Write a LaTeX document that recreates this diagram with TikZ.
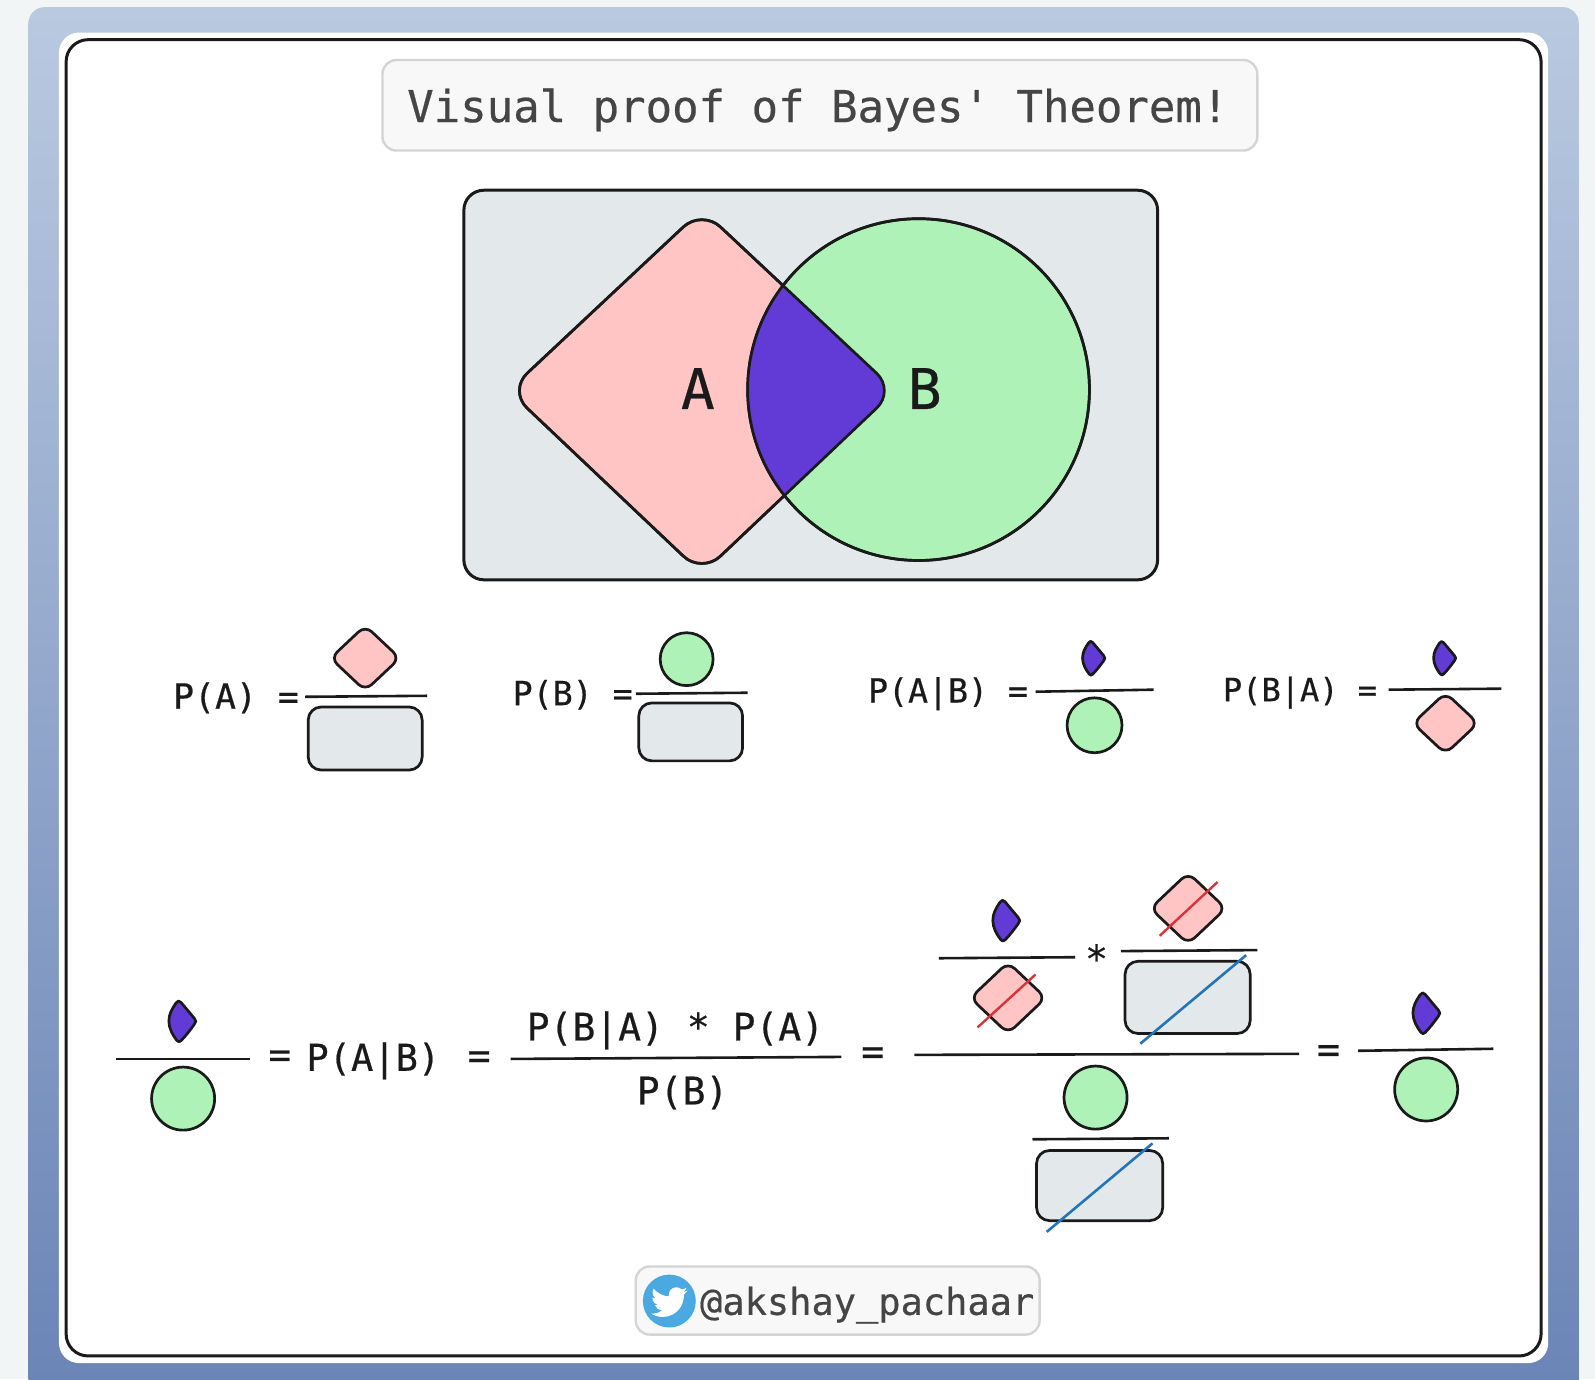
\documentclass[tikz,border=0pt]{standalone}
\usepackage{fontspec}
\newfontfamily\monof[FakeBold=0.5]{DejaVu Sans Mono}
\definecolor{pagebg}{HTML}{F1F5F6}
\definecolor{frametop}{HTML}{B9C9E0}
\definecolor{framemid}{HTML}{93A9CF}
\definecolor{framebot}{HTML}{6A84B6}
\definecolor{inktone}{HTML}{1A1A1A}
\definecolor{greyfill}{HTML}{E3E8EB}
\definecolor{pinkfill}{HTML}{FFC4C4}
\definecolor{greenfill}{HTML}{AEF2B8}
\definecolor{purplefill}{HTML}{623BD6}
\definecolor{chipfill}{HTML}{F8F8F8}
\definecolor{chipline}{HTML}{D2D4D6}
\definecolor{chiptext}{HTML}{454545}
\definecolor{twblue}{HTML}{4AA9E0}
\definecolor{strikered}{HTML}{D9333A}
\definecolor{strikeblue}{HTML}{2474BC}
\tikzset{
  ink/.style={draw=inktone,line width=1.35pt,line join=round},
  bar/.style={draw=inktone,line width=1.3pt},
  chip/.style={draw=chipline,fill=chipfill,line width=1.2pt,rounded corners=7pt},
  math/.style={text=inktone,font=\monof\fontsize{#1}{#1}\selectfont,inner sep=0pt},
  redline/.style={draw=strikered,line width=1.2pt},
  blueline/.style={draw=strikeblue,line width=1.3pt}
}
\newcommand{\mydia}[4]{\path[ink,fill=pinkfill,rounded corners=4.5pt]
  ({#1-#3-4},#2) -- (#1,{#2-#4-4}) -- ({#1+#3+4},#2) -- (#1,{#2+#4+4}) -- cycle;}
\newcommand{\myball}[3]{\path[ink,fill=greenfill] (#1,#2) circle[radius=#3];}
\newcommand{\myrect}[4]{\path[ink,fill=greyfill,rounded corners=6.5pt] (#1,#2) rectangle (#3,#4);}
\newcommand{\mydrop}[3]{\begin{scope}[shift={(#1,#2)},scale=#3]
  \path[ink,fill=purplefill] (-6,-18) .. controls (-4.5,-20.5) and (-2.5,-20.5) .. (-1,-18.5) -- (12,-3)
    .. controls (14,-1) and (14,1) .. (12,3) .. controls (7,10) and (3,15) .. (-1,19) .. controls (-2.5,20.5) and (-3.5,20.5) .. (-5,19)
    .. controls (-9,14) and (-13,7) .. (-13,0) .. controls (-13,-7) and (-10,-12) .. (-6,-18) -- cycle;
  \end{scope}}
\newcommand{\bigdia}{(500,384) -- (690,206) -- (880,384) -- (690,564) -- cycle}
\begin{document}
\begin{tikzpicture}[x=0.50861pt,y=-0.50861pt]
\useasboundingbox (0,0) rectangle (1568,1355.7);
\clip (0,0) rectangle (1568,1355.7);
\fill[pagebg] (0,0) rectangle (1568,1355.7);
% frame
\shade[top color=frametop,middle color=framemid,bottom color=framebot,rounded corners=8pt] (28,7) rectangle (1552,1380);
\fill[white,rounded corners=10pt] (58,32) rectangle (1522,1340);
\path[draw=inktone,line width=1.5pt,fill=white,rounded corners=11pt] (65,39) rectangle (1515,1333);
% title
\path[chip] (376,59) rectangle (1236,148);
\node[font=\monof\fontsize{22}{24}\selectfont,text=chiptext,inner sep=0pt] (title) at (804,108) {Visual proof of Bayes' Theorem!};
% venn
\path[draw=inktone,line width=1.5pt,fill=greyfill,rounded corners=10pt] (456,187) rectangle (1138,570);
\path[ink,fill=pinkfill,rounded corners=12.7pt] \bigdia;
\path[ink,fill=greenfill] (903,383) circle[radius=168];
\begin{scope}
  \clip (903,383) circle[radius=168];
  \path[fill=purplefill,rounded corners=12.7pt] \bigdia;
\end{scope}
\path[ink,rounded corners=12.7pt] \bigdia;
\path[ink] (903,383) circle[radius=168];
\node[math=28] (labA) at (686,382) {A};
\node[math=28] (labB) at (909,382) {B};
% row 1
\node[math=17.4] (t1) at (232,686) {P(A) =};
\mydia{359}{647}{30}{28}
\draw[bar] (300,685) -- (420,684);
\myrect{303}{695}{415}{757}
\node[math=16.6] (t2) at (563,683) {P(B) =};
\myball{675}{648}{26}
\draw[bar] (625,682) -- (735,681);
\myrect{628}{691}{730}{748}
\node[math=16.6] (t3) at (932,682) {P(A|B) =};
\mydrop{1075}{647}{0.83}
\draw[bar] (1018,680) -- (1134,678);
\myball{1076}{713}{27}
\node[math=16] (t4) at (1278,681) {P(B|A) =};
\mydrop{1420}{647}{0.82}
\draw[bar] (1365,678) -- (1476,677);
\mydia{1421}{711}{28}{26}
% row 2
\mydrop{179}{1004}{1}
\draw[bar] (114,1041) -- (246,1041);
\myball{180}{1080}{31}
\node[math=18.5] (t5a) at (275,1041) {=};
\node[math=18.5] (t5) at (367,1043) {P(A|B)};
\node[math=19] (eq1) at (471,1042) {=};
\draw[bar] (502,1041) -- (827,1039);
\node[math=19] (t6) at (664,1013) {P(B|A) * P(A)};
\node[math=19] (t7) at (671,1074) {P(B)};
\node[math=19] (eq2) at (858,1038) {=};
\draw[bar] (899,1037) -- (1277,1036);
\mydrop{989}{905}{1}
\draw[bar] (923,942) -- (1057,941);
\mydia{991}{981}{33}{31}
\draw[redline] (961,1010) -- (1018,958);
\node[math=19] (star) at (1078,942) {*};
\mydia{1168}{893}{33}{31}
\draw[redline] (1140,920) -- (1197,867);
\draw[bar] (1102,935) -- (1236,934);
\myrect{1106}{945}{1229}{1016}
\draw[blueline] (1121,1026) -- (1225,939);
\myball{1077}{1079}{31}
\draw[bar] (1015,1120) -- (1149,1119);
\myrect{1019}{1131}{1143}{1200}
\draw[blueline] (1029,1211) -- (1133,1124);
\node[math=19] (eq3) at (1306,1036) {=};
\mydrop{1402}{996}{1}
\draw[bar] (1335,1033) -- (1468,1031);
\myball{1402}{1071}{31}
% footer
\path[chip] (625,1245) rectangle (1022,1312);
\fill[twblue] (658,1279) circle[radius=26];
\begin{scope}[shift={(640,1262)},scale=1.5]
\fill[white] (23.95,4.57) .. controls (23.07,4.96) and (22.12,5.23) .. (21.13,5.35)
 .. controls (22.15,4.73) and (22.91,3.77) .. (23.29,2.62)
 .. controls (22.34,3.18) and (21.29,3.58) .. (20.16,3.81)
 .. controls (19.3,2.87) and (18.1,2.3) .. (16.57,2.3)
 .. controls (13.85,2.3) and (11.65,4.5) .. (11.65,7.22)
 .. controls (11.65,7.6) and (11.7,7.97) .. (11.78,8.29)
 .. controls (7.69,8.1) and (4.07,6.13) .. (1.64,3.16)
 .. controls (1.22,3.89) and (0.97,4.73) .. (0.97,5.64)
 .. controls (0.97,7.35) and (1.84,8.85) .. (3.16,9.73)
 .. controls (2.35,9.71) and (1.6,9.49) .. (0.93,9.12)
 -- (0.93,9.18)
 .. controls (0.93,11.56) and (2.63,13.55) .. (4.88,14)
 .. controls (4.17,14.19) and (3.42,14.22) .. (2.67,14.09)
 .. controls (3.3,16.04) and (5.12,17.46) .. (7.27,17.5)
 .. controls (5.58,18.82) and (3.45,19.6) .. (1.17,19.6)
 .. controls (0.78,19.6) and (0.39,19.58) .. (0,19.54)
 .. controls (2.19,20.93) and (4.78,21.75) .. (7.56,21.75)
 .. controls (16.61,21.75) and (21.56,14.25) .. (21.56,7.76)
 .. controls (21.56,7.55) and (21.56,7.34) .. (21.54,7.13)
 .. controls (22.5,6.44) and (23.34,5.58) .. (24,4.59) -- cycle;
\end{scope}
\node[font=\monof\fontsize{18.5}{20}\selectfont,text=chiptext,inner sep=0pt] (handle) at (852.5,1283) {@akshay\_pachaar};
\end{tikzpicture}
\end{document}
